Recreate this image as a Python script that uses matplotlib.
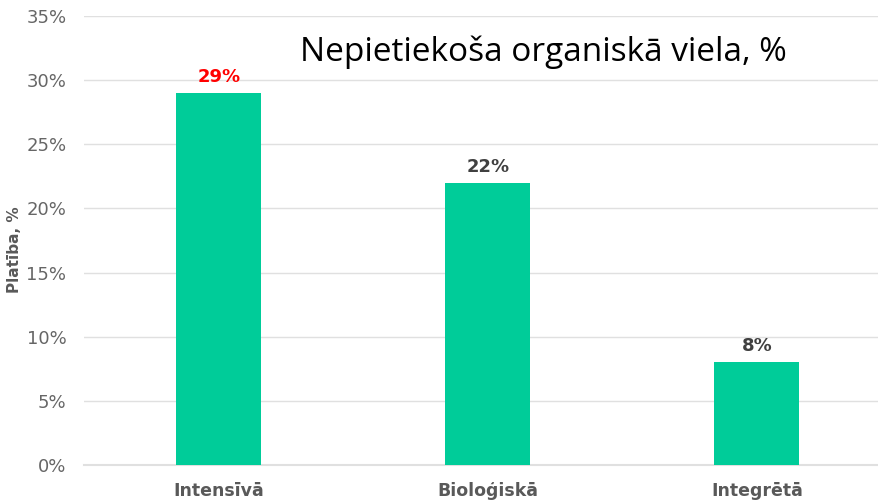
import numpy as np
import matplotlib.pyplot as plt

kategorijas = ['Intensīvā', 'Bioloģiskā', 'Integrētā']
vertibas = [29, 22, 8]
etiketes_krasas = ['#ff0000', '#404040', '#404040']

fig = plt.figure(figsize=(8.79, 5.0), dpi=100)
ax = fig.add_axes([0.0961, 0.07, 0.918, 0.898])

x = np.arange(len(kategorijas))
ax.bar(x, vertibas, width=0.316, color='#00cc99', zorder=3)

for xi, v, c in zip(x, vertibas, etiketes_krasas):
    ax.annotate(f'{v}%', (xi, v), xytext=(0, 5), textcoords='offset points',
                ha='center', va='bottom', fontsize=13, fontweight='bold', color=c)

ax.set_xlim(-0.5, 2.5)
ax.set_ylim(0, 35)
ax.set_yticks(np.arange(0, 36, 5))
ax.set_yticklabels([f'{t}%' for t in range(0, 36, 5)], fontsize=13, color='#666666')
ax.set_xticks(x)
ax.set_xticklabels(kategorijas, fontsize=12.5, fontweight='bold', color='#595959')
ax.tick_params(axis='both', length=0)
ax.tick_params(axis='y', pad=13)
ax.tick_params(axis='x', pad=12)
ax.grid(axis='y', color='#e0e0e0', linewidth=1.0, zorder=0)
ax.axhline(0, color='#e0e0e0', linewidth=1.5, zorder=2, clip_on=False)
for s in ax.spines.values():
    s.set_visible(False)

fig.text(0.017, 0.50, 'Platība, %', rotation=90, ha='center', va='center',
         fontsize=11, fontweight='bold', color='#595959')
fig.text(0.618, 0.895, 'Nepietiekoša organiskā viela, %', ha='center', va='center',
         fontsize=24, family='Open Sans', color='black')

plt.savefig('out.png')
